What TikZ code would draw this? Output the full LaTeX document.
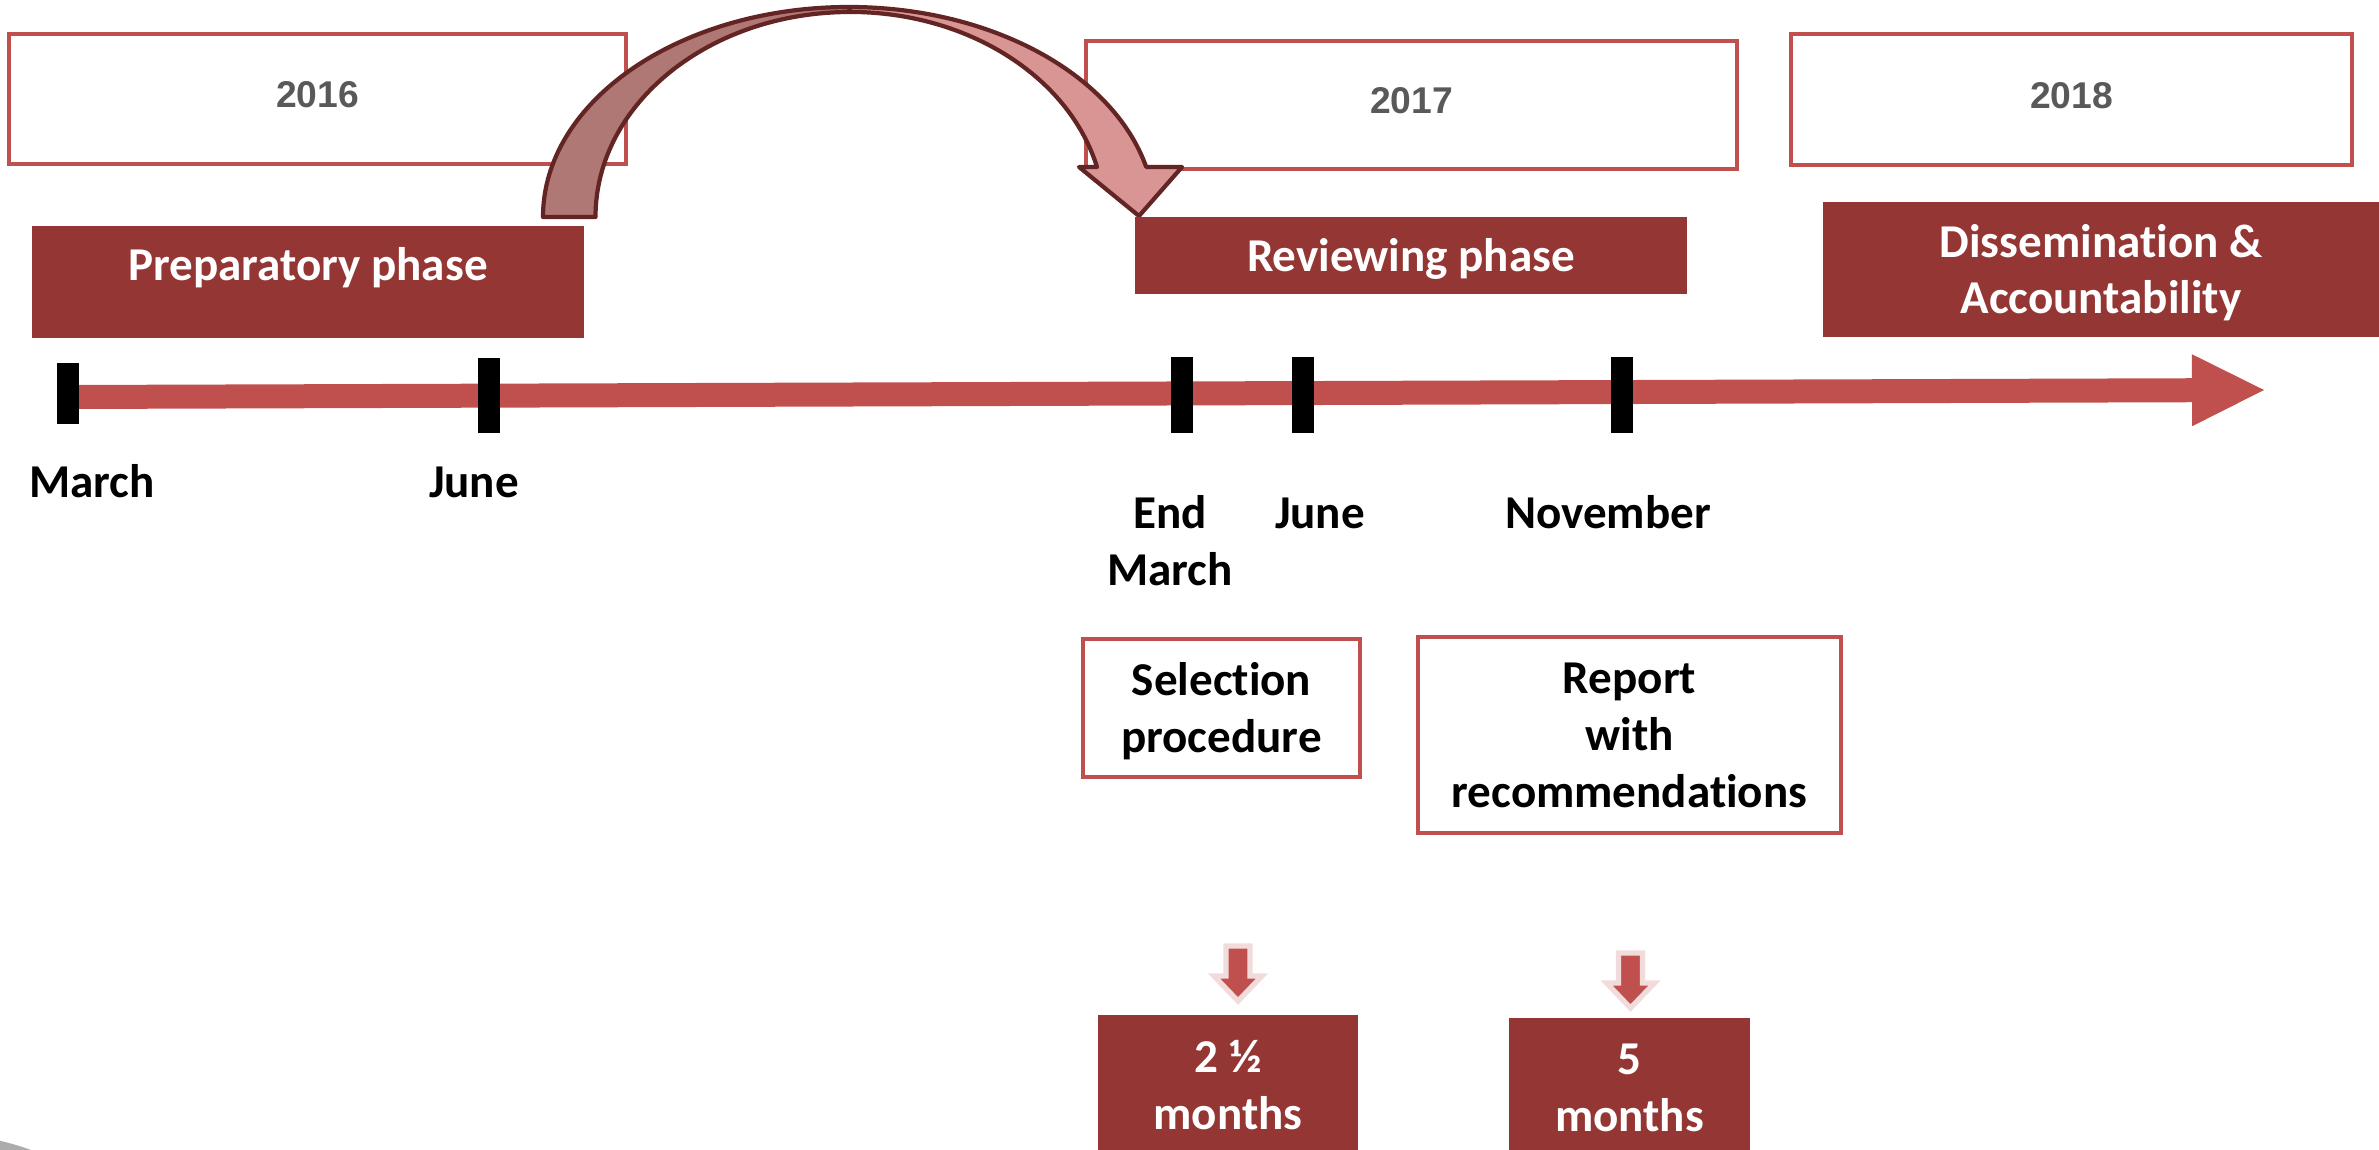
\documentclass[tikz,border=0pt]{standalone}
\usepackage{fontspec}
\setmainfont{Carlito}[Ligatures=NoCommon]
\newfontfamily\arialfont{Liberation Sans}
\usetikzlibrary{arrows.meta,positioning}
\definecolor{accent}{HTML}{C0504D}
\definecolor{darkred}{HTML}{943634}
\definecolor{outline}{HTML}{632523}
\definecolor{mauve}{HTML}{B07874}
\definecolor{rose}{HTML}{D99594}
\definecolor{glow}{HTML}{F2DCDB}
\definecolor{yeargrey}{HTML}{595959}
\newcommand{\lblfont}{\fontsize{13.4}{16.2}\selectfont\bfseries}

\begin{document}
\begin{tikzpicture}[
  yearbox/.style={draw=accent, line width=1.2pt, fill=white, text=yeargrey,
    font=\arialfont\bfseries\fontsize{10.6}{12}\selectfont, inner sep=0pt, text depth=0.09cm},
  phasebox/.style={fill=darkred, text=white, font=\lblfont, align=center, inner sep=0pt},
  durationbox/.style={phasebox},
  tickmark/.style={fill=black, minimum width=0.22cm, inner sep=0pt},
  datelabel/.style={font=\lblfont, align=center, inner sep=0pt},
  notebox/.style={draw=accent, line width=1.2pt, font=\lblfont, align=center, inner sep=0pt},
  bendarrow/.style={draw=outline, line width=1.2pt, line join=round},
  downarrow/.style={fill=accent, draw=glow, line width=1.5pt}
]
  \useasboundingbox (0,0) rectangle (23.79,-11.49);
  \clip (0,0) rectangle (23.79,-11.49);
  \fill[gray!65] (-0.60,-14.0) circle (2.66);

  \node[yearbox, minimum width=6.17cm, minimum height=1.30cm] (y2016) at (3.175,-0.99) {2016};
  \node[yearbox, minimum width=6.51cm, minimum height=1.28cm] (y2017) at (14.115,-1.05) {2017};
  \node[yearbox, minimum width=5.61cm, minimum height=1.31cm] (y2018) at (20.715,-0.995) {2018};

  \draw[bendarrow, fill=mauve] (5.43,-2.17) arc[start angle=180, end angle=90, x radius=3.06, y radius=2.10]
    -- (8.50,-0.12) arc[start angle=90, end angle=180, x radius=2.545, y radius=2.05] -- cycle;
  \draw[bendarrow, fill=rose] (8.49,-0.07) arc[start angle=90, end angle=13.8, x radius=3.06, y radius=2.10]
    -- (11.82,-1.67) -- (11.39,-2.16) -- (10.79,-1.67) -- (10.97,-1.67)
    arc[start angle=14.1, end angle=90, x radius=2.545, y radius=2.05] -- cycle;

  \node[phasebox, minimum width=5.52cm, minimum height=1.12cm, text height=0.34cm, text depth=0.38cm] (prep) at (3.08,-2.82) {Preparatory phase};
  \node[phasebox, minimum width=5.52cm, minimum height=0.77cm, text height=0.43cm, text depth=0.1cm] (review) at (14.11,-2.555) {Reviewing phase};
  \node[phasebox, minimum width=5.56cm, minimum height=1.35cm, text depth=0.01cm] (dissem) at (21.01,-2.695) {Dissemination \&\\Accountability};

  \coordinate (tstart) at (0.68,-3.97);
  \coordinate (tend) at (22.64,-3.90);
  \draw[accent, line width=0.24cm, -{Triangle[length=0.72cm, width=0.72cm, line width=0pt]}] (tstart) -- (tend);

  \node[tickmark, minimum height=0.61cm] (tmar) at (0.675,-3.935) {};
  \node[tickmark, minimum height=0.75cm] (tjun) at (4.89,-3.955) {};
  \node[tickmark, minimum height=0.76cm] (tmar17) at (11.82,-3.95) {};
  \node[tickmark, minimum height=0.76cm] (tjun17) at (13.03,-3.95) {};
  \node[tickmark, minimum height=0.76cm] (tnov17) at (16.22,-3.95) {};

  \node[datelabel, anchor=base] (lmar) at (0.92,-4.97) {March};
  \node[datelabel, anchor=base] (ljun) at (4.74,-4.97) {June};
  \node[datelabel, anchor=base] (lmar17) at (11.70,-5.85) {End\\March};
  \node[datelabel, anchor=base] (ljun17) at (13.20,-5.28) {June};
  \node[datelabel, anchor=base] (lnov17) at (16.08,-5.28) {November};

  \node[notebox, minimum width=2.77cm, minimum height=1.38cm, text depth=0.01cm] (select) at (12.215,-7.08) {Selection\\procedure};
  \node[notebox, minimum width=4.23cm, minimum height=1.96cm, text depth=-0.08cm] (report) at (16.295,-7.35) {Report\\with\\recommendations};

  \foreach \x/\y in {12.38/9.46, 16.305/9.53}
    \draw[downarrow] (\x-0.12,-\y) -- (\x+0.12,-\y) -- (\x+0.12,-\y-0.30) -- (\x+0.24,-\y-0.30)
      -- (\x,-\y-0.55) -- (\x-0.24,-\y-0.30) -- (\x-0.12,-\y-0.30) -- cycle;

  \node[durationbox, minimum width=2.60cm, minimum height=1.40cm] (dur1) at (12.28,-10.85) {2 ½\\months};
  \node[durationbox, minimum width=2.41cm, minimum height=1.40cm] (dur2) at (16.295,-10.88) {5\\months};
\end{tikzpicture}
\end{document}
